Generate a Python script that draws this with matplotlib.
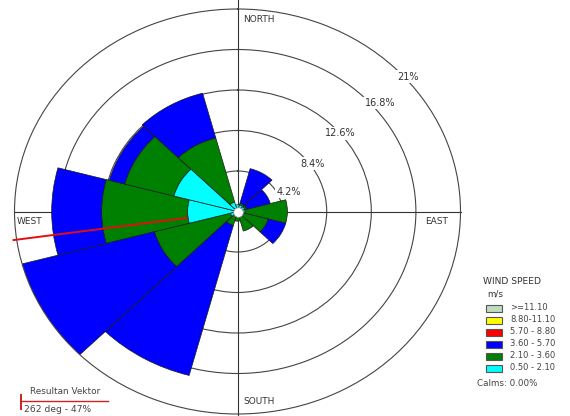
import numpy as np
import matplotlib
matplotlib.use("Agg")
import matplotlib.pyplot as plt
from matplotlib.patches import Rectangle

W, H, DPI = 570, 416, 100

# sector centres (deg from north, clockwise), 30 deg sectors
directions = [0, 30, 60, 90, 120, 150, 180, 210, 240, 270, 300, 330]

# frequency (%) per wind speed class
spd_050_210 = [0.7, 0.7, 0.7, 0.7, 0.6, 0.4, 0.3, 0.4, 0.7, 4.7, 6.2, 1.0]
spd_210_360 = [0.0, 0.2, 0.2, 4.0, 2.4, 1.7, 0.7, 1.1, 7.4, 8.1, 4.8, 6.9]
spd_360_570 = [0.0, 3.7, 2.3, 0.0, 1.7, 0.0, 0.0, 16.1, 12.9, 4.7, 1.5, 4.8]
spd_570_880 = [0.0] * 12
spd_880_1110 = [0.0] * 12
spd_ge_1110 = [0.0] * 12

class_labels = [">=11.10", "8.80-11.10", "5.70 - 8.80", "3.60 - 5.70", "2.10 - 3.60", "0.50 - 2.10"]
class_colors = ["#c0dcc0", "#ffff00", "#ff0000", "#0000ff", "#008000", "#00ffff"]

ring_values = [4.2, 8.4, 12.6, 16.8, 21]
ring_labels = ["4.2%", "8.4%", "12.6%", "16.8%", "21%"]

resultant_dir = 262
resultant_pct = 47
calms = 0.00

fig = plt.figure(figsize=(W / DPI, H / DPI), dpi=DPI)

# rose is slightly stretched horizontally in the original
cx, cy, rx, ry = 237.5, 211.5, 223, 202.5
ax = fig.add_axes([(cx - rx) / W, (H - cy - ry) / H, 2 * rx / W, 2 * ry / H], projection="polar")
ax.set_aspect("auto")
ax.set_theta_zero_location("N")
ax.set_theta_direction(-1)
ax.set_ylim(0, ring_values[-1])
ax.set_axisbelow(True)

ax.set_rgrids(ring_values[:-1], labels=[""] * 4)
ax.set_thetagrids([])
ax.yaxis.grid(True, color="#444444", lw=0.8, ls="-")
ax.xaxis.grid(False)
ax.spines["polar"].set_color("#444444")
ax.spines["polar"].set_linewidth(0.8)

# compass cross
for ang, r_end in [(0, 22.2), (180, 21.6), (90, 21), (270, 21)]:
    ax.plot([np.deg2rad(ang)] * 2, [0, r_end], color="#333333", lw=0.8, zorder=1, clip_on=False)

theta = np.deg2rad(directions)
width = np.deg2rad(30)
series = [spd_050_210, spd_210_360, spd_360_570, spd_570_880, spd_880_1110, spd_ge_1110]
colors = class_colors[::-1]
bottom = np.zeros(len(directions))
for i, (vals, col) in enumerate(zip(series, colors)):
    vals = np.array(vals)
    m = vals > 0
    if m.any():
        ax.bar(theta[m], vals[m], width=width, bottom=bottom[m], color=col,
               edgecolor="#1a1a1a", linewidth=0.5, zorder=4 if i == 0 else 2)
    bottom += vals

# resultant vector
ax.plot([np.deg2rad(resultant_dir)] * 2, [0, 21.3], color="#e01010", lw=1.4, zorder=3, clip_on=False)

# centre circle
ax.plot([0], [0], "o", ms=7, mfc="white", mec="#888888", mew=0.6, zorder=6)

# ring labels
label_pos = [(67, 5.2), (55, 8.6), (50, 12.6), (50, 17.5), (49, 21.3)]
for (b, r), lab in zip(label_pos, ring_labels):
    ax.text(np.deg2rad(b), r, lab, fontsize=7, color="#333333", ha="center", va="center",
            bbox=dict(boxstyle="square,pad=0.15", fc="white", ec="none"), zorder=7, clip_on=False)

# overlay in pixel coordinates for the annotations
ov = fig.add_axes([0, 0, 1, 1])
ov.set_xlim(0, W)
ov.set_ylim(H, 0)
ov.axis("off")
ov.patch.set_visible(False)

tc = "#333333"
ov.text(243, 19, "NORTH", fontsize=6.5, color=tc, va="center")
ov.text(425, 222, "EAST", fontsize=6.5, color=tc, va="center")
ov.text(17, 221, "WEST", fontsize=6.5, color=tc, va="center")
ov.text(243, 402, "SOUTH", fontsize=6.5, color=tc, va="center")

# legend
ov.text(483, 282, "WIND SPEED", fontsize=6.6, color=tc, va="center")
ov.text(487, 294, "m/s", fontsize=6.3, color=tc, va="center")
for k, (lab, col) in enumerate(zip(class_labels, class_colors)):
    yy = 308 + k * 12
    ov.add_patch(Rectangle((486, yy - 3.5), 15.5, 7, fc=col, ec="#555555", lw=0.8))
    ov.text(510, yy, lab, fontsize=6, color="#444444", va="center")
ov.text(477, 383, "Calms: %.2f%%" % calms, fontsize=6.3, color="#444444", va="center")

# resultant vector note
ov.text(65, 392, "Resultan Vektor", fontsize=6.4, color="#444444", ha="center", va="center")
ov.plot([21, 108], [401, 401], color="#cc2222", lw=1.0)
ov.plot([21, 21], [395, 409], color="#cc2222", lw=1.4)
ov.text(24, 410, "%d deg - %d%%" % (resultant_dir, resultant_pct), fontsize=6.6, color="#444444", va="center")

fig.savefig("out.png", dpi=DPI)
